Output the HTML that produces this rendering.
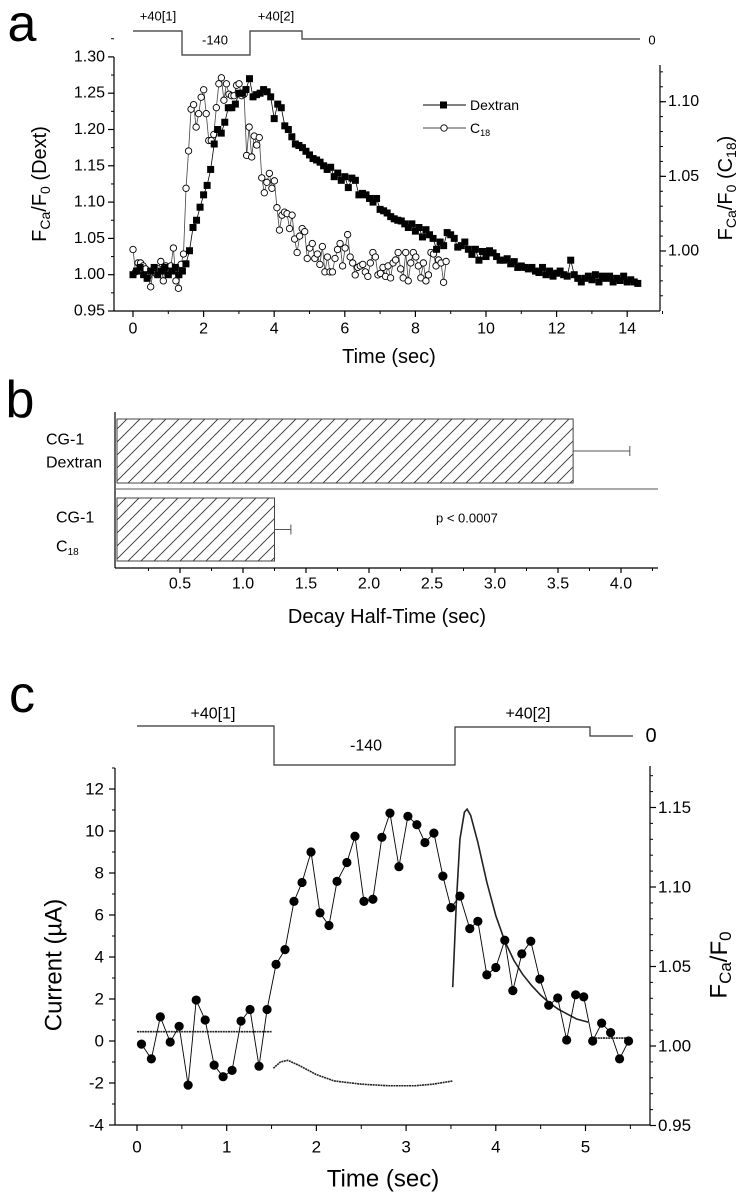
<!DOCTYPE html>
<html><head><meta charset="utf-8"><style>
body{margin:0;background:#fff}
svg{display:block;font-family:"Liberation Sans",Arial,sans-serif}
</style></head><body>
<svg id="fig" width="745" height="1199" viewBox="0 0 745 1199">
<defs><pattern id="hatch" patternUnits="userSpaceOnUse" width="13" height="13"><path d="M-1,14 L14,-1 M-3,3 L3,-3 M10,16 L16,10" stroke="#333" stroke-width="0.9"/></pattern></defs>
</svg>
<script>
// ---------- Panel a data ----------
const dextranStart = 0, dextranStep = 0.1;
const dextranValues = [1.00,1.005,1.01,1.00,0.995,1.005,1.01,1.00,1.005,1.01,1.00,1.005,1.01,1.00,
1.005,1.015,1.033,1.065,1.075,1.093,1.11,1.123,1.145,1.18,1.20,1.195,1.21,1.23,1.23,1.235,1.25,1.25,1.255,1.27,1.245,1.248,1.25,1.255,1.252,1.245,1.215,1.235,1.23,1.205,1.20,1.19,1.18,1.178,1.175,1.17,1.165,1.16,1.158,1.155,1.15,1.145,1.148,1.135,1.14,1.13,1.135,1.12,1.133,1.13,1.11,1.112,1.11,1.105,1.10,1.105,1.09,1.088,1.085,1.08,1.077,1.075,1.074,1.07,1.065,1.07,1.06,1.065,1.052,1.062,1.055,1.05,1.035,1.045,1.04,1.058,1.055,1.05,1.038,1.04,1.045,1.035,1.028,1.035,1.02,1.032,1.025,1.033,1.03,1.025,1.02,1.02,1.022,1.015,1.018,1.01,1.012,1.01,1.008,1.01,1.005,1.003,1.01,1.00,1.005,0.998,1.002,1.005,1.00,0.998,1.02,1.00,0.995,0.99,0.995,0.998,0.993,1.00,0.99,0.998,0.995,0.998,0.99,0.995,0.992,0.998,0.99,0.993,0.99,0.988];
const c18End = 8.87;
const c18Values = [1.001,0.986,0.992,0.992,0.990,0.988,0.983,0.976,0.987,0.985,0.988,0.993,0.980,0.990,0.986,0.990,1.002,0.980,0.975,0.991,0.998,1.042,1.067,1.095,1.098,1.083,1.092,1.103,1.108,1.092,1.074,1.074,1.078,1.096,1.112,1.116,1.101,1.112,1.105,1.104,1.104,1.111,1.112,1.104,1.105,1.064,1.083,1.063,1.077,1.071,1.076,1.049,1.039,1.046,1.052,1.042,1.047,1.029,1.014,1.024,1.026,1.025,1.015,1.024,1.008,0.999,1.010,1.015,1.013,0.995,1.002,1.005,0.995,0.998,0.991,1.003,0.986,0.996,0.986,0.986,0.995,1.001,1.005,0.990,1.002,1.011,0.996,0.992,0.984,0.989,0.990,0.991,0.986,0.983,0.992,0.999,0.996,0.984,0.985,0.989,0.983,0.990,0.982,0.992,0.994,0.999,0.988,0.982,0.999,0.980,0.992,0.999,0.996,0.990,0.982,0.992,0.980,0.984,0.999,0.998,0.990,0.994,0.992,0.979,0.993];
const aXTicks = [0,2,4,6,8,10,12,14];
const aLeftTicks = [0.95,1.00,1.05,1.10,1.15,1.20,1.25,1.30];
const aRightTicks = [1.00,1.05,1.10];
// ---------- Panel b data ----------
const bCategories = ["Dextran","C18"];
const bValues = [3.62,1.25];
const bErrors = [0.45,0.13];
const bTicks = [0.5,1.0,1.5,2.0,2.5,3.0,3.5,4.0];
// ---------- Panel c data ----------
const cTimes = [0.05,0.16,0.26,0.37,0.47,0.57,0.66,0.76,0.86,0.96,1.06,1.16,1.26,1.36,1.45,1.55,1.65,1.75,1.84,1.94,2.04,2.14,2.23,2.34,2.43,2.53,2.63,2.73,2.82,2.92,3.02,3.12,3.21,3.31,3.41,3.5,3.6,3.71,3.8,3.9,4.0,4.1,4.19,4.29,4.39,4.49,4.59,4.69,4.79,4.89,4.98,5.08,5.18,5.28,5.38,5.48];
const cCurrent = [-0.15,-0.85,1.15,-0.05,0.7,-2.1,1.95,1.0,-1.15,-1.7,-1.4,0.95,1.5,-1.2,1.5,3.65,4.35,6.65,7.55,9.0,6.1,5.5,7.6,8.5,9.75,6.65,6.75,9.7,10.85,8.3,10.7,10.3,9.45,9.9,7.85,6.35,6.9,5.35,5.7,3.15,3.5,4.8,2.4,4.15,4.75,2.95,1.7,2.05,0.05,2.2,2.1,0.0,0.85,0.4,-0.85,0.0];
const fluoSeg1 = [[0.0,1.009],[1.5,1.009]];
const fluoSeg2 = [[1.52,0.986],[1.6,0.990],[1.68,0.991],[1.8,0.988],[2.0,0.982],[2.2,0.978],[2.5,0.976],[2.8,0.975],[3.1,0.975],[3.3,0.976],[3.52,0.978]];
const fluoSeg3 = [[3.52,1.037],[3.56,1.09],[3.6,1.13],[3.65,1.147],[3.68,1.149],[3.72,1.145],[3.8,1.128],[3.9,1.103],[4.0,1.082],[4.1,1.066],[4.2,1.054],[4.3,1.045],[4.4,1.038],[4.5,1.032],[4.6,1.027],[4.7,1.023],[4.8,1.020],[4.9,1.017],[5.03,1.015]];
const fluoSeg4 = [[5.05,1.005],[5.5,1.005]];
const cXTicks = [0,1,2,3,4,5];
const cLeftTicks = [-4,-2,0,2,4,6,8,10,12];
const cRightTicks = [0.95,1.00,1.05,1.10,1.15];

const svg = document.getElementById('fig');
const NS = 'http://www.w3.org/2000/svg';
function mk(tag, attrs, parent){const e=document.createElementNS(NS,tag);for(const k in attrs)e.setAttribute(k,attrs[k]);(parent||svg).appendChild(e);return e;}
function line(x1,y1,x2,y2,w,col){return mk('line',{x1,y1,x2,y2,stroke:col||'#000','stroke-width':w||1});}
function txt(x,y,s,size,anchor,extra){const t=mk('text',Object.assign({x,y,'font-size':size,'text-anchor':anchor||'middle','dominant-baseline':'central',fill:'#000'},extra||{}));t.innerHTML=s;return t;}

// ===== Panel a =====
const ax = t => 133 + t*35.3;
const ayL = v => 311 - (v-0.95)*726;
const ayR = v => 251 - (v-1.00)*1493;
let e;
e=txt(22,24,'a',52,'middle');


e=mk('polyline',{points:'133,31 182,31 182,55 250,55 250,31 302,31 302,39 640,39',fill:'none',stroke:'#333','stroke-width':1.2});


[['+40[1]',158,16],['-140',215,40],['+40[2]',276,16],['0',652,40]].forEach(p=>{e=txt(p[1],p[2],p[0],13);

});
e=line(114,57,114,311,1.2);


e=line(114,311,660,311,1.2);


e=line(660,65,660,311,1.2);


aLeftTicks.forEach(v=>{line(108,ayL(v),114,ayL(v),1.2);e=txt(105,ayL(v),v.toFixed(2),16,'end');


line(111,ayL(v+0.025),114,ayL(v+0.025),1);});
aXTicks.forEach(t=>{line(ax(t),311,ax(t),317,1.2);line(ax(t+1),311,ax(t+1),314,1);e=txt(ax(t),329,String(t),16);

});
aRightTicks.forEach(v=>{line(660,ayR(v),666,ayR(v),1.2);e=txt(668,ayR(v),v.toFixed(2),16,'start');

});
for(let v=0.97;v<=1.121;v+=0.01){line(660,ayR(v),663,ayR(v),1);}
e=txt(389,357,'Time (sec)',20);


e=txt(0,0,'F<tspan font-size="14" dy="5">Ca</tspan><tspan dy="-5">/F</tspan><tspan font-size="14" dy="5">0</tspan><tspan dy="-5"> (Dext)</tspan>',20,'middle',{transform:'translate(40,184) rotate(-90)'});


e=txt(0,0,'F<tspan font-size="14" dy="5">Ca</tspan><tspan dy="-5">/F</tspan><tspan font-size="14" dy="5">0</tspan><tspan dy="-5"> (C</tspan><tspan font-size="14" dy="5">18</tspan><tspan dy="-5">)</tspan>',20,'middle',{transform:'translate(726,188) rotate(-90)'});


// C18 series
const c18Step = c18End/(c18Values.length-1);
e=mk('polyline',{points:c18Values.map((v,i)=>ax(i*c18Step)+','+ayR(v)).join(' '),fill:'none',stroke:'#444','stroke-width':0.8});


c18Values.forEach((v,i)=>{e=mk('circle',{cx:ax(i*c18Step),cy:ayR(v),r:3.2,fill:'#fff',stroke:'#000','stroke-width':0.9});

});
// Dextran series
e=mk('polyline',{points:dextranValues.map((v,i)=>ax(dextranStart+i*dextranStep)+','+ayL(v)).join(' '),fill:'none',stroke:'#000','stroke-width':0.8});


dextranValues.forEach((v,i)=>{e=mk('rect',{x:ax(dextranStart+i*dextranStep)-3.5,y:ayL(v)-3.5,width:7,height:7,fill:'#000'});

});
// legend
line(423,105,466,105,1);mk('rect',{x:440,y:101.5,width:7,height:7,fill:'#000'});
e=txt(470,105,'Dextran',14,'start');


line(423,128,466,128,0.9,'#444');mk('circle',{cx:444,cy:128,r:3.2,fill:'#fff',stroke:'#000','stroke-width':0.9});
e=txt(470,128,'C<tspan font-size="9" dy="5">18</tspan>',14,'start');



// ===== Panel b =====
const bx = v => 117 + v*126;
const barY = [[419,483],[498,561]];
e=txt(20,400,'b',52,'middle');


e=line(115,412,115,568,1.2);


e=line(115,568,658,568,1.2);


line(115,489,658,489,1.2,'#777');
bTicks.forEach(v=>{line(bx(v),568,bx(v),573,1.2);line(bx(v-0.25),568,bx(v-0.25),571,1);e=txt(bx(v),584,v.toFixed(1),16);

});
line(bx(4.25),568,bx(4.25),571,1);
bValues.forEach((v,i)=>{
const y0=barY[i][0],y1=barY[i][1];
e=mk('rect',{x:bx(0),y:y0,width:bx(v)-bx(0),height:y1-y0,fill:'url(#hatch)',stroke:'#444','stroke-width':1});


const ym=(y0+y1)/2;
e=line(bx(v),ym,bx(v+bErrors[i]),ym,1,'#555');


line(bx(v+bErrors[i]),ym-5,bx(v+bErrors[i]),ym+5,1,'#555');
});
e=txt(46,440,'CG-1',16,'start');


e=txt(46,463,'Dextran',16,'start');


e=txt(56,518,'CG-1',16,'start');


e=txt(56,547,'C<tspan font-size="10" dy="5">18</tspan>',16,'start');


e=txt(436,518,'p &lt; 0.0007',13,'start');


e=txt(387,617,'Decay Half-Time (sec)',20);



// ===== Panel c =====
const cx = t => 137 + t*89.7;
const cyL = c => 1125 - (c+4)*21;
const cyR = v => 1046 - (v-1.00)*1590;
e=txt(22,695,'c',52,'middle');


e=mk('polyline',{points:'137,726 274,726 274,765 455,765 455,727 590,727 590,736 633,736',fill:'none',stroke:'#333','stroke-width':1.2});


[['+40[1]',213,714],['-140',366,746],['+40[2]',528,714],['0',651,736]].forEach(p=>{e=txt(p[1],p[2],p[0],p[0]==='0'?20:16);

});
e=line(115,768,115,1125,1.2);


e=line(115,1125,650,1125,1.2);


e=line(650,766,650,1125,1.2);


cLeftTicks.forEach(c=>{line(109,cyL(c),115,cyL(c),1.2);line(112,cyL(c+1),115,cyL(c+1),1);e=txt(104,cyL(c),String(c),17,'end');

});
cXTicks.forEach(t=>{line(cx(t),1125,cx(t),1131,1.2);line(cx(t+0.5),1125,cx(t+0.5),1129,1);e=txt(cx(t),1147,String(t),17);

});
cRightTicks.forEach(v=>{line(650,cyR(v),656,cyR(v),1.2);e=txt(658,cyR(v),v.toFixed(2),17,'start');

});
for(let v=0.96;v<=1.171;v+=0.01){line(650,cyR(v),653,cyR(v),1);}
e=txt(0,0,'Current (µA)',24,'middle',{transform:'translate(54,965) rotate(-90)'});


e=txt(0,0,'F<tspan font-size="17" dy="6">Ca</tspan><tspan dy="-6">/F</tspan><tspan font-size="17" dy="6">0</tspan>',24,'middle',{transform:'translate(719,965) rotate(-90)'});


e=txt(383,1179,'Time (sec)',24);


[fluoSeg1,fluoSeg2,fluoSeg3,fluoSeg4].forEach(seg=>{
e=mk('polyline',{points:seg.map(p=>cx(p[0])+','+cyR(p[1])).join(' '),fill:'none',stroke:'#222','stroke-width':1.6,'stroke-dasharray':seg===fluoSeg3?'none':'2 0.6'});


});
e=mk('polyline',{points:cTimes.map((t,i)=>cx(t)+','+cyL(cCurrent[i])).join(' '),fill:'none',stroke:'#000','stroke-width':0.9});


cTimes.forEach((t,i)=>{e=mk('circle',{cx:cx(t),cy:cyL(cCurrent[i]),r:4.6,fill:'#000'});

});
</script>
</body></html>
